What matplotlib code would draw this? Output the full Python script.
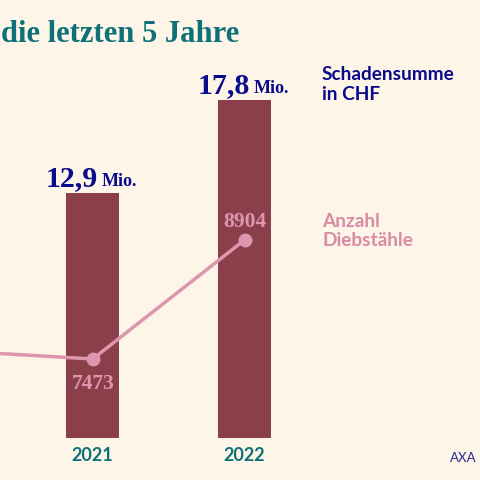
import matplotlib
matplotlib.use('Agg')
import matplotlib.pyplot as plt

years = [2021, 2022]
schaden_mio = [12.9, 17.8]
schaden_labels = ['12,9', '17,8']
diebstahl_years = [2020, 2021, 2022]
diebstahl = [7581, 7473, 8904]

BG = '#FDF5E7'
BAR = '#8B3F4A'
PINK = '#DC96AE'
LABEL_PINK = '#D98BA3'
TEAL = '#0E7178'
NAVY = '#0A0A8C'
SERIF = 'Liberation Serif'
SANS = 'Lato'

def px(n):
  # offsets are given in pixels of the 480 px picture
  return n * 0.72

fig = plt.figure(figsize=(4.8, 4.8), dpi=100, facecolor=BG)
ax = fig.add_axes([0, 0, 1, 1], facecolor=BG)
ax.set_xlim(2021 - 92.75 / 151.75, 2021 + 387.25 / 151.75)
ax.set_ylim(-42.5 / 18.96, 437.5 / 18.96)
ax.axis('off')

ax.bar(years, schaden_mio, width=0.346, color=BAR)

ax2 = ax.twinx()
ax2.set_ylim(7473 - 121 / 0.08316, 7473 + 359 / 0.08316)
ax2.axis('off')
ax2.plot(diebstahl_years, diebstahl, color=PINK, lw=2.5, solid_capstyle='round')
ax2.plot(years, diebstahl[1:], 'o', color=PINK, ms=10, mew=0)

for year, value, label in zip(years, schaden_mio, schaden_labels):
  ax.annotate(label, (year, value), xytext=(px(-21), px(7)), textcoords='offset points',
              ha='center', va='baseline', family=SERIF, weight='bold', fontsize=21.5, color=NAVY)
  ax.annotate('Mio.', (year, value), xytext=(px(27), px(7)), textcoords='offset points',
              ha='center', va='baseline', family=SERIF, weight='bold', fontsize=13, color=NAVY)

ax2.annotate('7473', (2021, 7473), xytext=(0, px(-30)), textcoords='offset points',
             ha='center', va='baseline', family=SERIF, weight='bold', fontsize=15.5, color=PINK)
ax2.annotate('8904', (2022, 8904), xytext=(0, px(13)), textcoords='offset points',
             ha='center', va='baseline', family=SERIF, weight='bold', fontsize=15.5, color=PINK)

for year in years:
  ax.annotate(str(year), (year, 0), xytext=(0, px(-23.5)), textcoords='offset points',
              ha='center', va='baseline', family=SANS, weight='bold', fontsize=13, color=TEAL)

fig.text(1 / 480, 1 - 42 / 480, 'die letzten 5 Jahre', family=SERIF, weight='bold',
         fontsize=22, color=TEAL, va='baseline')
fig.text(322 / 480, 1 - 80.5 / 480, 'Schadensumme', family=SANS, weight='bold',
         fontsize=13.7, color=NAVY, va='baseline')
fig.text(322 / 480, 1 - 100.5 / 480, 'in CHF', family=SANS, weight='bold',
         fontsize=13.7, color=NAVY, va='baseline')
fig.text(322 / 480, 1 - 226.5 / 480, 'Anzahl', family=SANS, weight='bold',
         fontsize=13.7, color=LABEL_PINK, va='baseline')
fig.text(322 / 480, 1 - 246.5 / 480, 'Diebstähle', family=SANS, weight='bold',
         fontsize=13.7, color=LABEL_PINK, va='baseline')
fig.text(450 / 480, 1 - 461.5 / 480, 'AXA', family=SANS, fontsize=9.5, color='#2A2A8C', va='baseline')

fig.savefig('out.png', dpi=100, facecolor=BG)
